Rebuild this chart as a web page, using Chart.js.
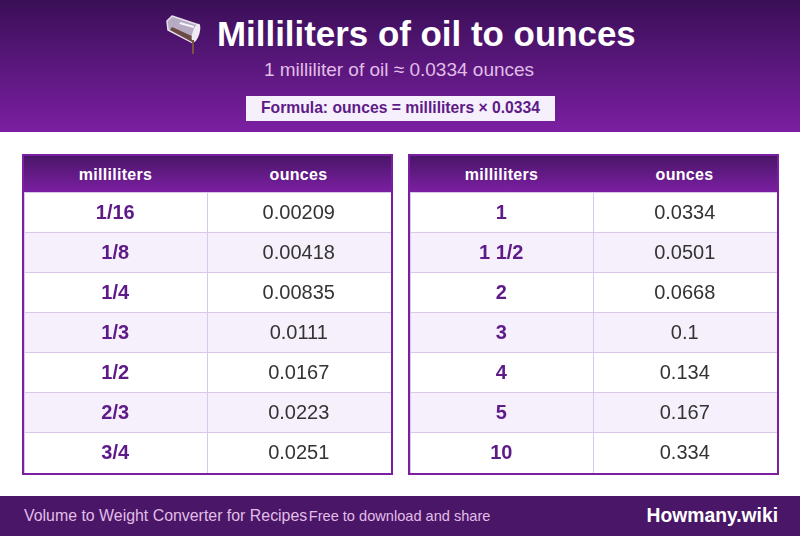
<!DOCTYPE html>
<html>
<head>
<meta charset="utf-8">
<title>Milliliters of oil to ounces</title>
<script src="https://cdn.jsdelivr.net/npm/chart.js@4"></script>
<style>
  html, body { margin: 0; padding: 0; background: #fff; }
  body { position: relative; width: 800px; height: 536px; overflow: hidden; font-family: "Liberation Sans", Arial, sans-serif; }
  .top { position: absolute; left: 0; top: 0; width: 800px; height: 132px; background: linear-gradient(180deg, #3a0f57 0%, #7b1fa2 100%); }
  .title { position: absolute; left: 217px; top: 13px; font-size: 34.9px; line-height: 42px; font-weight: bold; color: #fff; white-space: nowrap; }
  .sub { position: absolute; left: 0; width: 798px; top: 59px; text-align: center; font-size: 19px; line-height: 22px; color: #e1bee7; }
  .formula { position: absolute; left: 246px; top: 96px; width: 309px; height: 25px; line-height: 24px; text-align: center; background: #f5f0fb; color: #5e1a87; font-size: 15.7px; font-weight: bold; }
  .icon { position: absolute; left: 160px; top: 8px; }
  .table { position: absolute; top: 154px; width: 367px; height: 317px; border: 2px solid #7b1fa2; }
  .table .head { position: absolute; left: 0; top: 0; width: 100%; height: 36px; background: linear-gradient(180deg, #4a1668 0%, #7b1fa2 100%); color: #fff; font-size: 16px; font-weight: bold; letter-spacing: .3px; line-height: 37px; }
  .table .head span { position: absolute; top: 0; width: 183px; text-align: center; }
  .table canvas { position: absolute; left: 0; top: 36px; }
  .foot { position: absolute; left: 0; top: 496px; width: 800px; height: 40px; background: #4a1668; }
  .foot .l { position: absolute; left: 24px; top: 10px; font-size: 15.9px; line-height: 20px; color: #e1bee7; white-space: nowrap; }
  .foot .l2 { font-size: 14.6px; margin-left: 1.5px; }
  .foot .r { position: absolute; right: 22px; top: 8px; font-size: 19.3px; line-height: 23px; font-weight: bold; color: #fff; }
</style>
</head>
<body>
<div class="top">
  <svg class="icon" width="50" height="50" viewBox="160 8 50 50">
    <polygon points="172,16 199,25 193,43 168,30 167,21" fill="#b7abc3" stroke="#e6e1ea" stroke-width="1.5"/>
    <polygon points="170,30 192,42 194,37 172,27" fill="#6b4a45"/>
    <ellipse cx="196" cy="33" rx="3.5" ry="9.5" transform="rotate(17 196 33)" fill="#efebf2"/>
    <polygon points="180,22 194,26 193.5,28 179.5,24" fill="#f6f4f8"/>
    <rect x="192" y="40" width="2" height="14" fill="#7a5240"/>
  </svg>
  <div class="title">Milliliters of oil to ounces</div>
  <div class="sub">1 milliliter of oil ≈ 0.0334 ounces</div>
  <div class="formula">Formula: ounces = milliliters × 0.0334</div>
</div>

<div class="table" style="left:22px">
  <div class="head"><span style="left:0">milliliters</span><span style="left:183px">ounces</span></div>
  <canvas id="table1" width="367" height="281"></canvas>
</div>
<div class="table" style="left:408px">
  <div class="head"><span style="left:0">milliliters</span><span style="left:183px">ounces</span></div>
  <canvas id="table2" width="367" height="281"></canvas>
</div>

<div class="foot">
  <div class="l">Volume to Weight Converter for Recipes<span class="l2">Free to download and share</span></div>
  <div class="r">Howmany.wiki</div>
</div>

<script>
// values of both tables
var milliliters1 = ['1/16', '1/8', '1/4', '1/3', '1/2', '2/3', '3/4'];
var ounces1 = ['0.00209', '0.00418', '0.00835', '0.0111', '0.0167', '0.0223', '0.0251'];
var milliliters2 = ['1', '1 1/2', '2', '3', '4', '5', '10'];
var ounces2 = ['0.0334', '0.0501', '0.0668', '0.1', '0.134', '0.167', '0.334'];

// writes the cell text at the middle of each cell, using the scales
var cellText = {
  id: 'cellText',
  afterDatasetsDraw: function(chart) {
    var ctx = chart.ctx;
    var x = chart.scales.x;
    var y = chart.scales.y;
    var names = chart.config.options.names;
    var amounts = chart.config.options.amounts;
    ctx.save();
    ctx.textAlign = 'center';
    ctx.textBaseline = 'middle';
    for (var i = 0; i < names.length; i++) {
      ctx.font = 'bold 20px "Liberation Sans", Arial, sans-serif';
      ctx.fillStyle = '#5e1a87';
      ctx.fillText(names[i], x.getPixelForValue(0.5) - 0.5, y.getPixelForValue(i) + 1);
      ctx.font = '20px "Liberation Sans", Arial, sans-serif';
      ctx.fillStyle = '#333333';
      ctx.fillText(amounts[i], x.getPixelForValue(1.5) - 0.5, y.getPixelForValue(i) + 1);
    }
    ctx.restore();
  }
};

function rowColor(c) {
  return c.dataIndex % 2 == 0 ? '#ffffff' : '#f5f0fb';
}

function makeTable(id, names, amounts) {
  new Chart(document.getElementById(id), {
    type: 'bar',
    data: {
      labels: names,
      datasets: [
        { data: names.map(function() { return 1; }), backgroundColor: rowColor, barPercentage: 1, categoryPercentage: 1 },
        { data: names.map(function() { return 1; }), backgroundColor: rowColor, barPercentage: 1, categoryPercentage: 1 }
      ]
    },
    options: {
      names: names,
      amounts: amounts,
      indexAxis: 'y',
      responsive: false,
      animation: false,
      devicePixelRatio: 1,
      layout: { padding: 0 },
      plugins: { legend: { display: false }, tooltip: { enabled: false } },
      scales: {
        x: {
          stacked: true, min: 0, max: 2,
          ticks: { display: false, stepSize: 1 },
          border: { display: false },
          grid: { color: '#d9c8ea', drawTicks: false, z: 1 }
        },
        y: {
          stacked: true,
          ticks: { display: false },
          border: { display: false },
          grid: { color: '#d9c8ea', drawTicks: false, z: 1 }
        }
      }
    },
    plugins: [cellText]
  });
}

makeTable('table1', milliliters1, ounces1);
makeTable('table2', milliliters2, ounces2);
</script>
</body>
</html>
